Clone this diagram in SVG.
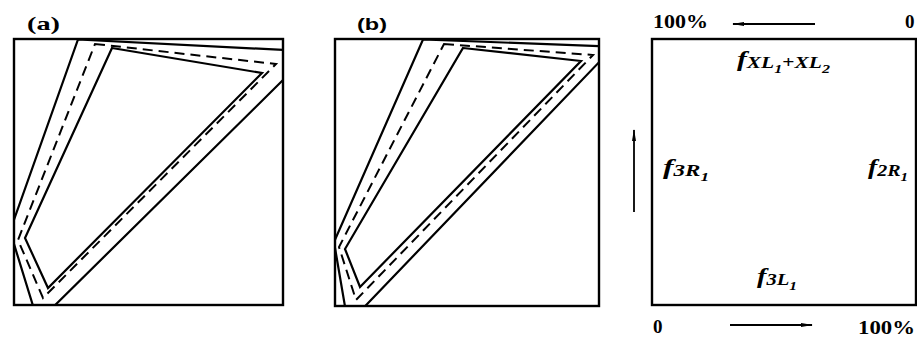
<svg xmlns="http://www.w3.org/2000/svg" width="917" height="338" viewBox="0 0 917 338">
<style>
.box{fill:none;stroke:#000;stroke-width:2.4}
.ln{fill:none;stroke:#000;stroke-width:2.2;stroke-linejoin:miter}
.ds{fill:none;stroke:#000;stroke-width:2;stroke-dasharray:10 6}
.lbl{font-family:"Liberation Serif",serif;font-size:19px;font-weight:bold;fill:#000}
.fi{font-family:"Liberation Serif",serif;font-style:italic;font-weight:bold;fill:#000}
.arr{stroke:#000;stroke-width:1.8;fill:none}
</style>
<defs>
<clipPath id="ca"><rect x="14" y="39" width="269" height="266"/></clipPath>
<clipPath id="cb"><rect x="335" y="39" width="264" height="267"/></clipPath>
<marker id="ah" viewBox="0 0 12 6" refX="11" refY="3" markerWidth="12" markerHeight="6" markerUnits="userSpaceOnUse" orient="auto">
<path d="M0,1 L12,3 L0,5 Z" fill="#000"/>
</marker>
</defs>
<g id="panel-a">
<text class="lbl" x="27" y="30" textLength="33" lengthAdjust="spacingAndGlyphs">(a)</text>
<rect class="box" x="14" y="39" width="269" height="266"/>
<g clip-path="url(#ca)">
<polygon class="ln" points="10,231 78,39.5 312,51.4 38,322"/>
<polygon class="ds" points="95,44 276,64 43,298 18,240"/>
<polygon class="ln" points="112,48 262,73 48,288 25,238"/>
</g>
</g>
<g id="panel-b">
<text x="357" y="30" font-family="Liberation Sans, sans-serif" font-weight="bold" font-size="17" textLength="30" lengthAdjust="spacingAndGlyphs">(b)</text>
<rect class="box" x="335" y="39" width="264" height="267"/>
<g clip-path="url(#cb)">
<polygon class="ln" points="334,242 423,39.5 614,46.6 348,324"/>
<polygon class="ds" points="444,44 593,55 356,300 339,247"/>
<polygon class="ln" points="463,48 581,61 360,287 345,249"/>
</g>
</g>
<g id="panel-c">
<rect class="box" x="652" y="39" width="264" height="266"/>
<text class="lbl" x="653" y="28" textLength="55" lengthAdjust="spacingAndGlyphs">100%</text>
<text class="lbl" x="905" y="28">0</text>
<text class="lbl" x="653" y="333">0</text>
<text class="lbl" x="858" y="334" textLength="57" lengthAdjust="spacingAndGlyphs">100%</text>
<text class="fi" x="737" y="66" textLength="93" lengthAdjust="spacingAndGlyphs"><tspan font-size="22">f</tspan><tspan font-size="16" dy="2">XL</tspan><tspan font-size="12" dy="5">1</tspan><tspan font-size="16" dy="-5" font-style="normal">+</tspan><tspan font-size="16">XL</tspan><tspan font-size="12" dy="5">2</tspan></text>
<text class="fi" x="663" y="174" textLength="46" lengthAdjust="spacingAndGlyphs"><tspan font-size="22">f</tspan><tspan font-size="16" dy="2">3R</tspan><tspan font-size="12" dy="5">1</tspan></text>
<text class="fi" x="868" y="174" textLength="40" lengthAdjust="spacingAndGlyphs"><tspan font-size="22">f</tspan><tspan font-size="16" dy="2">2R</tspan><tspan font-size="12" dy="5">1</tspan></text>
<text class="fi" x="757" y="283" textLength="40" lengthAdjust="spacingAndGlyphs"><tspan font-size="22">f</tspan><tspan font-size="16" dy="2">3L</tspan><tspan font-size="12" dy="5">1</tspan></text>
</g>
<g id="connectors">
<line class="arr" x1="815" y1="24" x2="733" y2="24" marker-end="url(#ah)"/>
<line class="arr" x1="730" y1="325" x2="812" y2="325" marker-end="url(#ah)"/>
<line class="arr" x1="634" y1="212" x2="634" y2="130" stroke-width="2.6" marker-end="url(#ah)"/>
</g>
</svg>
